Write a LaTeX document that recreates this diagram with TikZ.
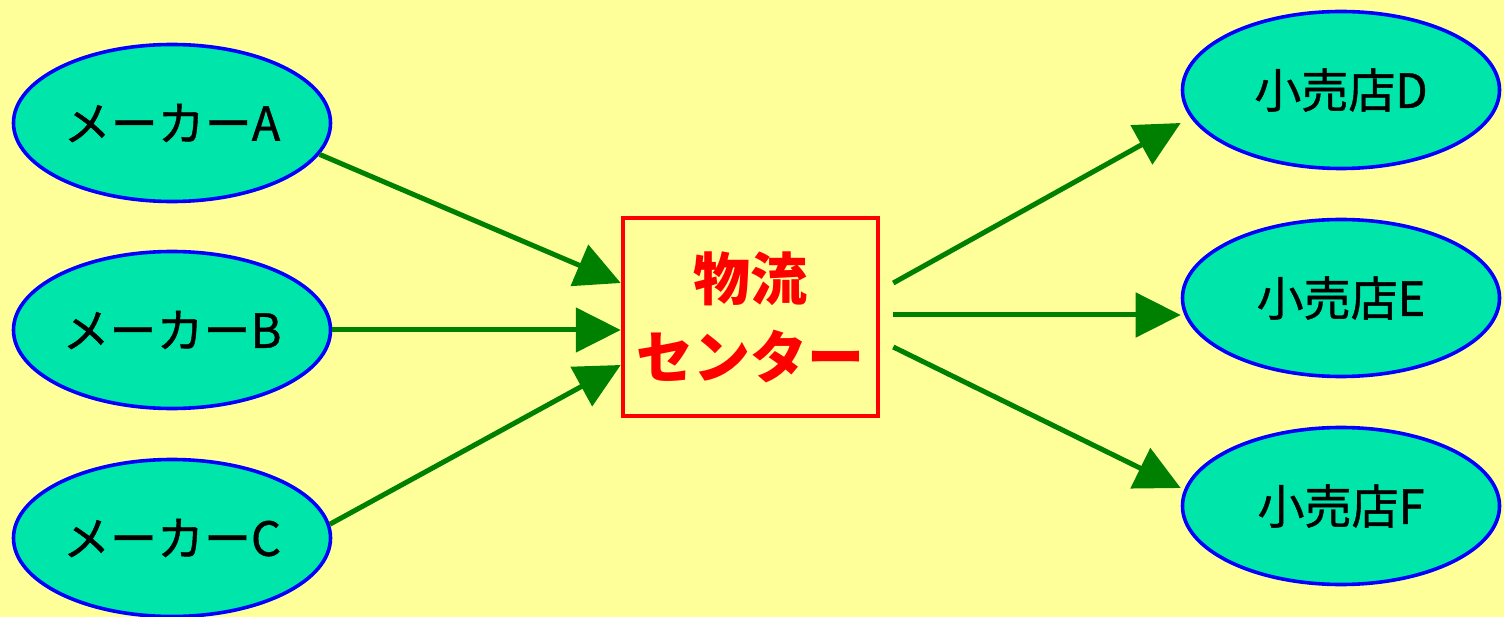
\documentclass[tikz,border=0pt]{standalone}
\usepackage{fontspec}
\setmainfont{Noto Sans CJK JP}
\newfontfamily\medfont{Noto Sans CJK JP}[FakeBold=0.9]
\usetikzlibrary{arrows.meta,shapes.geometric,calc}
\definecolor{bg}{HTML}{FFFF99}
\definecolor{ellfill}{HTML}{00E5AA}
\definecolor{arrgreen}{HTML}{008000}
\tikzset{
  party/.style={ellipse, draw=blue, fill=ellfill, line width=3.6pt, minimum width=317pt, minimum height=157pt, inner sep=0pt, font=\medfont\fontsize{47}{50}\selectfont},
  center/.style={rectangle, draw=red, line width=4.5pt, minimum width=255pt, minimum height=198pt, inner sep=0pt, align=center, text=red, font=\fontsize{57}{78}\selectfont\bfseries},
  flow/.style={draw=arrgreen, line width=5pt, -{Triangle[length=45pt,width=44pt]}}
}
\begin{document}
\begin{tikzpicture}[x=1pt,y=-1pt]
\fill[bg] (0,0) rectangle (1504,617);
\useasboundingbox (0,0) rectangle (1504,617);
\node[party] (A) at (172,123) {メーカーA};
\node[party] (B) at (172,330) {メーカーB};
\node[party] (C) at (172,538) {メーカーC};
\node[party] (D) at (1341,90) {小売店D};
\node[party] (E) at (1341,298) {小売店E};
\node[party] (F) at (1341,506) {小売店F};
\node[center] (box) at (750.5,317) {物流\\センター};
\draw[flow] (A.-12.4) -- ($(box.west)+(0,-34)$);
\draw[flow] (B.east) -- ($(box.west)+(0,13)$);
\draw[flow] (C.5.7) -- ($(box.west)+(0,48)$);
\draw[flow] ($(box.east)+(13,-34)$) -- ($(D.west)+(0,33)$);
\draw[flow] ($(box.east)+(13,-2)$) -- ($(E.west)+(0,17)$);
\draw[flow] ($(box.east)+(13,30)$) -- ($(F.west)+(0,-18)$);
\end{tikzpicture}
\end{document}
